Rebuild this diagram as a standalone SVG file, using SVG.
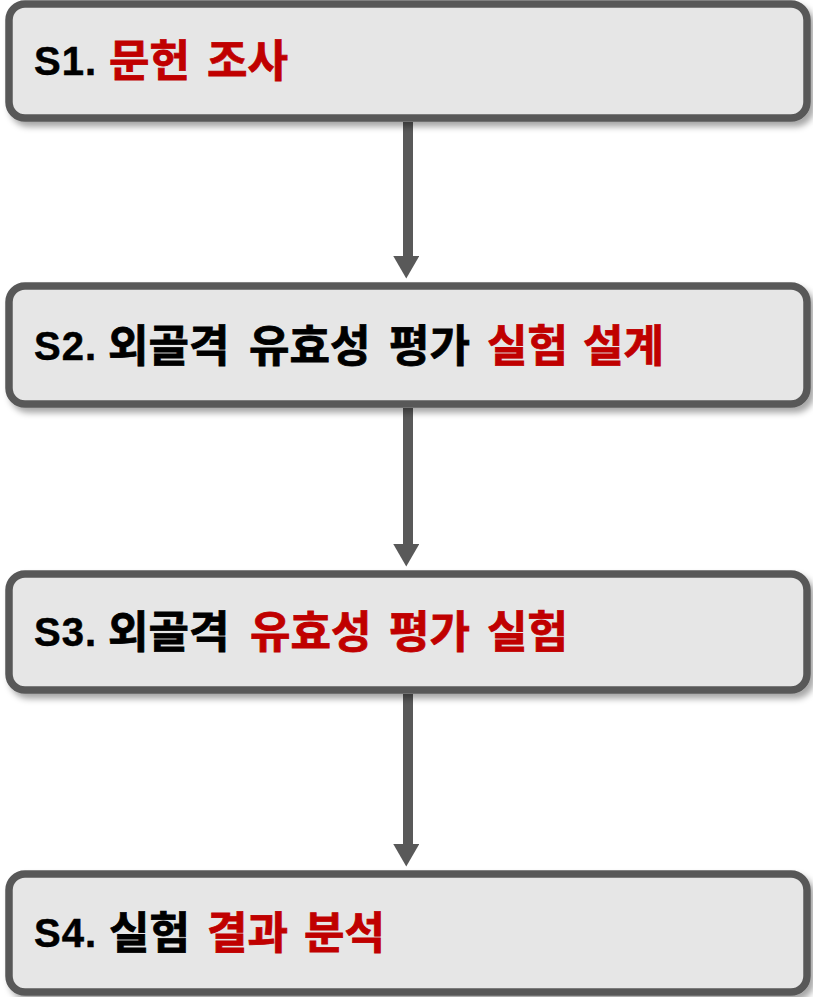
<svg xmlns="http://www.w3.org/2000/svg" width="813" height="997" viewBox="0 0 813 997">
  <style>
    .box { fill: #e6e6e6; stroke: #595959; stroke-width: 7.5; filter: url(#shadow); }
    .lat { font-family: "Liberation Sans", Arial, sans-serif; font-weight: bold; font-size: 40px; letter-spacing: 1px; fill: #000; stroke: #000; stroke-width: 0.5; }
    .kr { font-family: "Noto Sans CJK KR", "Noto Sans CJK SC", sans-serif; font-weight: bold; font-size: 44px; stroke-width: 0.8; }
    .blk { fill: #000; stroke: #000; }
    .red { fill: #c00000; stroke: #c00000; }
    .conn { stroke: #595959; stroke-width: 10; fill: none; marker-end: url(#arrow); }
  </style>
  <defs>
    <filter id="shadow" x="-5%" y="-20%" width="115%" height="150%">
      <feDropShadow dx="4" dy="5" stdDeviation="3" flood-color="#000" flood-opacity="0.35"/>
    </filter>
    <marker id="arrow" markerUnits="userSpaceOnUse" markerWidth="30" markerHeight="26" refX="0" refY="13" orient="auto" viewBox="0 0 26 30">
      <path d="M0,0 L26,15 L0,30 Z" fill="#595959"/>
    </marker>
  </defs>
  <rect width="813" height="997" fill="#ffffff"/>

  <g id="connectors">
    <line class="conn" x1="408" y1="122" x2="408" y2="256"/>
    <line class="conn" x1="408" y1="408" x2="408" y2="544"/>
    <line class="conn" x1="408" y1="694" x2="408" y2="844"/>
  </g>

  <g id="s1">
    <rect class="box" x="9" y="4" width="798" height="114" rx="16"/>
    <text class="lat" x="34" y="75">S1.</text>
    <text class="kr red"><tspan x="109" y="77">문헌</tspan><tspan x="207" y="77">조사</tspan></text>
  </g>

  <g id="s2">
    <rect class="box" x="9" y="286" width="798" height="118" rx="16"/>
    <text class="lat" x="34" y="360">S2.</text>
    <text class="kr"><tspan class="blk" x="108" y="362">외골격</tspan><tspan class="blk" x="249" y="362">유효성</tspan><tspan class="blk" x="389" y="362">평가</tspan><tspan class="red" x="487" y="362">실험</tspan><tspan class="red" x="583" y="362">설계</tspan></text>
  </g>

  <g id="s3">
    <rect class="box" x="9" y="574" width="798" height="116" rx="16"/>
    <text class="lat" x="34" y="646">S3.</text>
    <text class="kr"><tspan class="blk" x="108" y="648">외골격</tspan><tspan class="red" x="250" y="648">유효성</tspan><tspan class="red" x="389" y="648">평가</tspan><tspan class="red" x="487" y="648">실험</tspan></text>
  </g>

  <g id="s4">
    <rect class="box" x="9" y="874" width="798" height="118" rx="16"/>
    <text class="lat" x="34" y="947">S4.</text>
    <text class="kr"><tspan class="blk" x="109" y="949">실험</tspan><tspan class="red" x="207" y="949">결과</tspan><tspan class="red" x="304" y="949">분석</tspan></text>
  </g>
</svg>
